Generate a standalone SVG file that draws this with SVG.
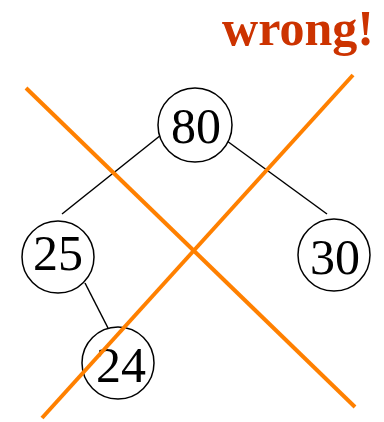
<svg xmlns="http://www.w3.org/2000/svg" width="384" height="422" viewBox="0 0 384 422">
<style>
.n{fill:#fff;stroke:#000;stroke-width:1.5}
.t{font-family:"Liberation Serif",serif;font-size:50px;text-anchor:middle;fill:#000}
.e{stroke:#000;stroke-width:1.5}
.x{stroke:#FF8000;stroke-width:4}
</style>
<rect width="384" height="422" fill="#fff"/>
<g id="edges">
<line class="e" x1="166" y1="131" x2="62" y2="214"/>
<line class="e" x1="227" y1="141" x2="327" y2="214"/>
<line class="e" x1="85" y1="283" x2="108" y2="328"/>
</g>
<g id="n80"><circle class="n" cx="195" cy="125" r="37"/><text class="t" x="196" y="143">80</text></g>
<g id="n25"><circle class="n" cx="58" cy="257" r="36"/><text class="t" x="58" y="270">25</text></g>
<g id="n30"><circle class="n" cx="334" cy="255" r="36"/><text class="t" x="335" y="274">30</text></g>
<g id="n24"><circle class="n" cx="118" cy="363" r="36"/><text class="t" x="121" y="382">24</text></g>
<g id="cross">
<line class="x" x1="26" y1="88" x2="355" y2="407"/>
<line class="x" x1="42" y1="418" x2="353" y2="75"/>
</g>
<text x="298" y="45" font-family="Liberation Serif,serif" font-weight="bold" font-size="50" fill="#CC3300" text-anchor="middle">wrong!</text>
</svg>
